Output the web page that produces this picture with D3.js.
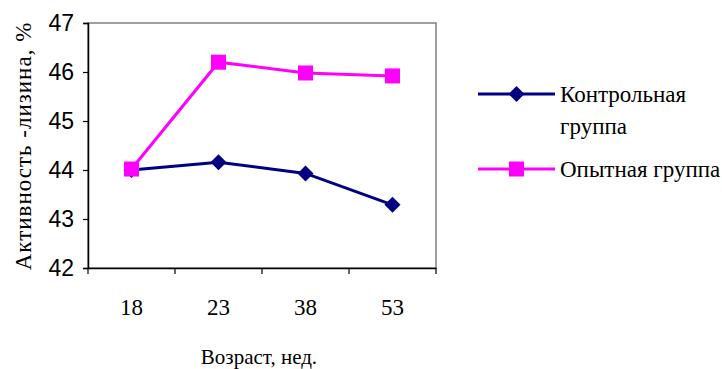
<!DOCTYPE html>
<html><head><meta charset="utf-8">
<script src="https://cdn.jsdelivr.net/npm/d3@7"></script>
<style>body{margin:0;background:#fff}svg{display:block}</style>
</head><body>
<script>
const categories = ["18", "23", "38", "53"];
const control = [44.0, 44.16, 43.93, 43.29];
const experimental = [44.02, 46.2, 45.98, 45.92];
const yTicks = [42, 43, 44, 45, 46, 47];
const seriesNames = ["Контрольная группа", "Опытная группа"];
const colors = ["#000080", "#FF00FF"];

const SERIF = "'Liberation Serif', 'Times New Roman', serif";
const SANS = "'Liberation Sans', Arial, sans-serif";

const W = 722, H = 369;
const m = {l: 88, r: 286, t: 23, b: 101};
const svg = d3.select("body").append("svg").attr("width", W).attr("height", H);
const x = d3.scaleBand().domain(categories).range([m.l, W - m.r]);
const y = d3.scaleLinear().domain([42, 47]).range([H - m.b, m.t]);

// frame
svg.append("rect").attr("x", m.l).attr("y", m.t).attr("width", W - m.r - m.l).attr("height", H - m.b - m.t)
  .attr("fill", "none").attr("stroke", "#808080").attr("stroke-width", 1.5);

const yAxis = svg.append("g").attr("transform", `translate(${m.l},0)`)
  .call(d3.axisLeft(y).tickValues(yTicks).tickFormat(d3.format("d")).tickSize(5).tickPadding(9));
yAxis.select(".domain").attr("stroke", "#000").attr("stroke-width", 1.5);
yAxis.selectAll("line").attr("stroke-width", 1.2);
yAxis.selectAll("text").style("font-size", "23px").style("font-family", SANS).attr("fill", "#000");

const xAxis = svg.append("g").attr("transform", `translate(0,${H - m.b})`)
  .call(d3.axisBottom(x).tickSize(0).tickPadding(31));
xAxis.select(".domain").attr("stroke", "#000").attr("stroke-width", 1.5);
xAxis.selectAll("text").style("font-size", "23px").style("font-family", SERIF).attr("fill", "#000");
// category boundary ticks
const bounds = categories.map(c => x(c)).concat([x(categories[categories.length-1]) + x.bandwidth()]);
xAxis.selectAll(".bt").data(bounds).enter().append("line")
  .attr("x1", d => d).attr("x2", d => d).attr("y1", 0).attr("y2", 6)
  .attr("stroke", "#000").attr("stroke-width", 1.2);

const cx = c => x(c) + x.bandwidth() / 2;
const line = d3.line().x((d, i) => cx(categories[i])).y(d => y(d));

function drawMarker(g, px, py, color, shape) {
  if (shape === "diamond") {
    const s = 8;
    g.append("path").attr("d", `M${px},${py - s}L${px + s},${py}L${px},${py + s}L${px - s},${py}Z`).attr("fill", color);
  } else {
    const s = 15;
    g.append("rect").attr("x", px - s / 2).attr("y", py - s / 2).attr("width", s).attr("height", s).attr("fill", color);
  }
}
function drawSeries(vals, color, shape) {
  svg.append("path").datum(vals).attr("d", line).attr("fill", "none")
    .attr("stroke", color).attr("stroke-width", 3);
  vals.forEach((v, i) => drawMarker(svg, cx(categories[i]), y(v), color, shape));
}
drawSeries(control, colors[0], "diamond");
drawSeries(experimental, colors[1], "square");

// axis titles
svg.append("text").attr("transform", `translate(31,146) rotate(-90)`)
  .attr("text-anchor", "middle").style("font-size", "23px").style("letter-spacing", "1px")
  .style("font-family", SERIF).text("Активность -лизина, %");
svg.append("text").attr("x", 259).attr("y", 364).attr("text-anchor", "middle")
  .style("font-size", "21px").style("font-family", SERIF).text("Возраст, нед.");

// legend
const lg = svg.append("g");
const lx1 = 478, lx2 = 555;
[[94, [seriesNames[0].split(" ")[0], seriesNames[0].split(" ")[1]], "diamond"], [169, [seriesNames[1]], "square"]]
  .forEach(([ly, lines, shape], k) => {
    lg.append("line").attr("x1", lx1).attr("x2", lx2).attr("y1", ly).attr("y2", ly)
      .attr("stroke", colors[k]).attr("stroke-width", 3);
    drawMarker(lg, (lx1 + lx2) / 2, ly, colors[k], shape);
    lines.forEach((t, j) => lg.append("text").attr("x", 560).attr("y", ly + 8 + j * 32)
      .style("font-size", "23px").style("font-family", SERIF).text(t));
  });
</script>
</body></html>
